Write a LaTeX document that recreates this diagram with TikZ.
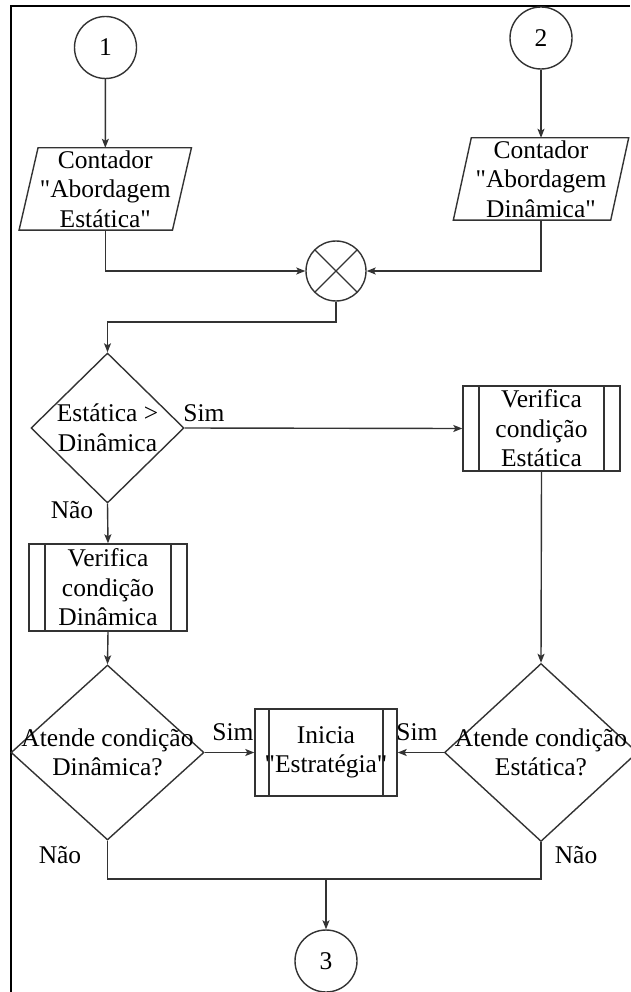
\documentclass[tikz,border=0pt]{standalone}
\usepackage{fontspec}
\setmainfont{Liberation Serif}[Ligatures=TeXOff]
\usetikzlibrary{shapes.geometric,arrows.meta}
\begin{document}
\begin{tikzpicture}[x=1pt,y=-1pt,
  line/.style={draw=black!80, line width=1.4pt},
  arrow/.style={line, -{Stealth[length=9pt,width=7pt,inset=2pt]}},
  txt/.style={font=\fontsize{25.5}{29.5}\selectfont, inner sep=0pt, align=center},
  conn/.style={circle, line, minimum size=62pt, inner sep=0pt, txt},
  junction/.style={circle, line, minimum size=60pt, inner sep=0pt,
    path picture={\draw[line width=1.4pt, black!80]
      (path picture bounding box.north west) -- (path picture bounding box.south east)
      (path picture bounding box.north east) -- (path picture bounding box.south west);}},
  decision/.style={diamond, line, inner sep=0pt},
  iotext/.style={rectangle, txt},
  subr/.style={rectangle, line, txt,
    path picture={\draw[line width=1.4pt, black!80]
      ([xshift=#1]path picture bounding box.north west) -- ([xshift=#1]path picture bounding box.south west)
      ([xshift=-#1]path picture bounding box.north east) -- ([xshift=-#1]path picture bounding box.south east);}},
  subr/.default=16pt
]
\useasboundingbox (0,0) rectangle (630,992);

% outer frame (left and top edges)
\draw[black, line width=2pt] (11,992) -- (11,6) -- (630,6);

% entry connectors
\node[conn] (c1) at (105.5,47.5) {1};
\node[conn] (c2) at (541,38) {2};

% counters (input/output parallelograms)
\node[iotext, minimum width=153pt, minimum height=82pt] (p1) at (105.25,189)
  {Contador\\"Abordagem\\Estática"};
\draw[line] ([xshift=9.5pt]p1.north west) -- ([xshift=9.5pt]p1.north east)
  -- ([xshift=-9.5pt]p1.south east) -- ([xshift=-9.5pt]p1.south west) -- cycle;
\node[iotext, minimum width=157pt, minimum height=82pt] (p2) at (541,179)
  {Contador\\"Abordagem\\Dinâmica"};
\draw[line] ([xshift=9pt]p2.north west) -- ([xshift=9pt]p2.north east)
  -- ([xshift=-9pt]p2.south east) -- ([xshift=-9pt]p2.south west) -- cycle;

% summing junction
\node[junction] (sum) at (336,271) {};

% first decision
\node[decision, minimum width=153pt, minimum height=150pt] (d1) at (107.5,428) {};
\node[txt] (d1t) at (d1) {Estática >\\Dinâmica};

% check subroutines
\node[subr, minimum width=157pt, minimum height=85pt] (ve) at (541.5,428.5)
  {Verifica\\condição\\Estática};
\node[subr, minimum width=158pt, minimum height=87pt] (vd) at (108,587.5)
  {Verifica\\condição\\Dinâmica};

% second-level decisions
\node[decision, minimum width=193pt, minimum height=175pt] (d2) at (107.5,752.5) {};
\node[txt] (d2t) at (d2) {Atende condição\\Dinâmica?};
\node[decision, minimum width=193pt, minimum height=178pt] (d3) at (541,752.5) {};
\node[txt] (d3t) at (d3) {Atende condição\\Estática?};

% start strategy
\node[subr=14pt, minimum width=142pt, minimum height=87pt] (st) at (326,752.5)
  {Inicia\\"Estratégia"};

% exit connector
\node[conn] (c3) at (326,961) {3};

% routing points
\coordinate (m1) at (d1.north |- 0,322);
\coordinate (j) at (c3.north |- 0,879);

% connectors
\draw[arrow] (c1) -- (p1);
\draw[arrow] (c2) -- (p2);
\draw[arrow] (p1.south) |- (sum.west);
\draw[arrow] (p2.south) |- (sum.east);
\draw[arrow] (sum.south) |- (m1) -- (d1.north);
\draw[arrow] (d1.east) -- (ve.west);
\draw[arrow] (d1.south) -- (vd.north);
\draw[arrow] (vd.south) -- (d2.north);
\draw[arrow] (ve.south) -- (d3.north);
\draw[arrow] (d2.east) -- (st.west);
\draw[arrow] (d3.west) -- (st.east);
\draw[line] (d2.south) |- (j) -| (d3.south);
\draw[arrow] (j) -- (c3.north);

% branch labels
\node[txt] (l1) at (204,413) {Sim};
\node[txt] (l2) at (72,510) {Não};
\node[txt] (l3) at (233,732) {Sim};
\node[txt] (l4) at (417,732) {Sim};
\node[txt] (l5) at (60,855) {Não};
\node[txt] (l6) at (576,855) {Não};
\end{tikzpicture}
\end{document}
